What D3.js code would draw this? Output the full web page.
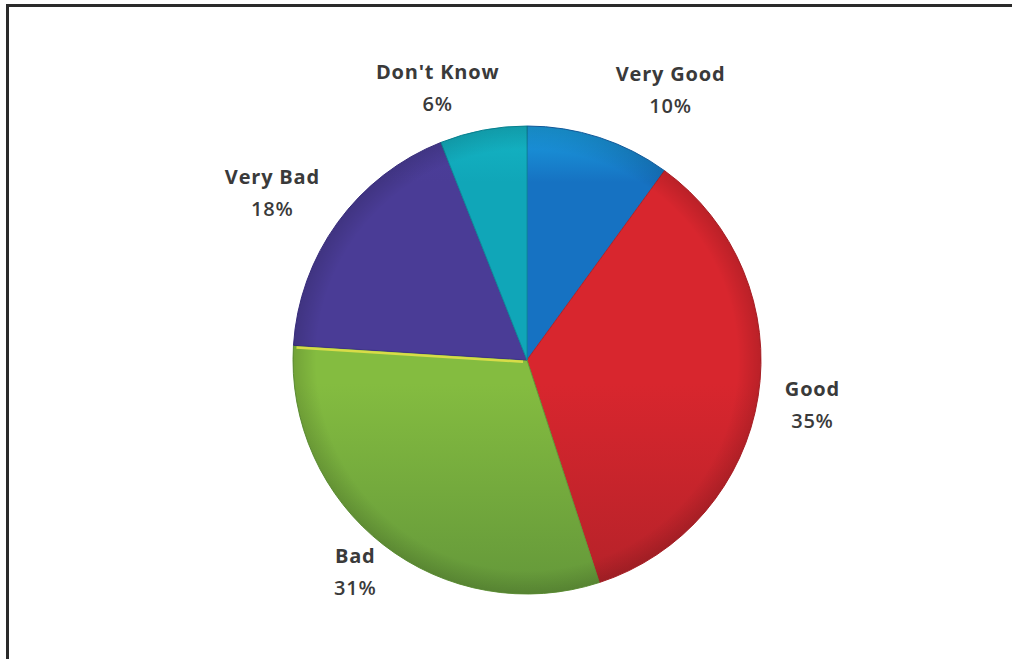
<!DOCTYPE html>
<html>
<head>
<meta charset="utf-8">
<script src="https://cdn.jsdelivr.net/npm/d3@7"></script>
<style>
  html, body { margin: 0; padding: 0; background: #fff; }
  svg { display: block; }
</style>
</head>
<body>
<svg id="chart" width="1012" height="659"></svg>
<script>
// ---- data ----
const categories = ["Very Good", "Good", "Bad", "Very Bad", "Don't Know"];
const values = [10, 35, 31, 18, 6];
const percentLabels = ["10%", "35%", "31%", "18%", "6%"];

// ---- style / layout (not data) ----
const colorsTop = ["#1a9ee0", "#e0282f", "#8cc443", "#4c3f9c", "#14b4c4"];
const colorsMid = ["#1672c2", "#d8262e", "#84bc40", "#4a3c96", "#10a6b8"];
const colorsBot = ["#1462a8", "#b42229", "#64983a", "#3e3286", "#0c8c9c"];
const labelNudge = [[54, 6], [-1, 0], [6, -17], [-20, 3], [-35, 13]];

const W = 1012, H = 659;
const cx = 527, cy = 360, R = 234, labelR = 290;

const svg = d3.select("#chart");

// frame (left and top edges visible)
svg.append("rect").attr("x", 0).attr("y", 0).attr("width", W).attr("height", H).attr("fill", "#fff");
svg.append("line").attr("x1", 6).attr("x2", W).attr("y1", 5.5).attr("y2", 5.5)
   .attr("stroke", "#2a2a2a").attr("stroke-width", 3);
svg.append("line").attr("x1", 7.5).attr("x2", 7.5).attr("y1", 4).attr("y2", H)
   .attr("stroke", "#2a2a2a").attr("stroke-width", 3);

const defs = svg.append("defs");
categories.forEach((c, i) => {
  const gr = defs.append("linearGradient")
    .attr("id", "grad" + i)
    .attr("gradientUnits", "userSpaceOnUse")
    .attr("x1", 0).attr("y1", -R).attr("x2", 0).attr("y2", R);
  gr.append("stop").attr("offset", "0%").attr("stop-color", colorsTop[i]);
  gr.append("stop").attr("offset", "12%").attr("stop-color", colorsMid[i]);
  gr.append("stop").attr("offset", "55%").attr("stop-color", colorsMid[i]);
  gr.append("stop").attr("offset", "100%").attr("stop-color", colorsBot[i]);
});
const rg = defs.append("radialGradient").attr("id", "edge")
  .attr("gradientUnits", "userSpaceOnUse")
  .attr("cx", 0).attr("cy", 0).attr("r", R);
rg.append("stop").attr("offset", "90%").attr("stop-color", "#000").attr("stop-opacity", 0);
rg.append("stop").attr("offset", "100%").attr("stop-color", "#000").attr("stop-opacity", 0.14);

const pie = d3.pie().sort(null).value(d => d);
const arcs = pie(values);
const arc = d3.arc().innerRadius(0).outerRadius(R);

// gradients are in user space of the element; inside the translated group that is pie-centred
const g = svg.append("g").attr("transform", `translate(${cx},${cy})`);

g.selectAll("path.slice").data(arcs).enter().append("path")
  .attr("class", "slice")
  .attr("d", arc)
  .attr("fill", (d, i) => `url(#grad${i})`)
  .attr("stroke", (d, i) => colorsBot[i])
  .attr("stroke-width", 1)
  .attr("stroke-linejoin", "round");

g.append("circle").attr("r", R).attr("fill", "url(#edge)");

// yellow highlight along Bad / Very Bad boundary
const badEnd = arcs[2].endAngle;
g.append("line")
  .attr("x1", 4 * Math.sin(badEnd)).attr("y1", -4 * Math.cos(badEnd) + 2)
  .attr("x2", (R - 3) * Math.sin(badEnd)).attr("y2", -(R - 3) * Math.cos(badEnd) + 2)
  .attr("stroke", "#d8dc48").attr("stroke-width", 2.5);

// labels
const lbl = svg.append("g")
  .attr("font-family", "'Open Sans', 'Liberation Sans', sans-serif")
  .attr("fill", "#3a3a3a")
  .attr("text-anchor", "middle");
arcs.forEach((d, i) => {
  const mid = (d.startAngle + d.endAngle) / 2;
  const x = cx + labelR * Math.sin(mid) + labelNudge[i][0];
  const y = cy - labelR * Math.cos(mid) + labelNudge[i][1];
  lbl.append("text").attr("x", x).attr("y", y - 9)
    .attr("font-size", 20).attr("font-weight", "bold")
    .attr("letter-spacing", 0.8)
    .text(categories[i]);
  lbl.append("text").attr("x", x).attr("y", y + 23)
    .attr("font-size", 20).attr("font-weight", "600")
    .attr("letter-spacing", 0.8)
    .text(percentLabels[i]);
});
</script>
</body>
</html>
